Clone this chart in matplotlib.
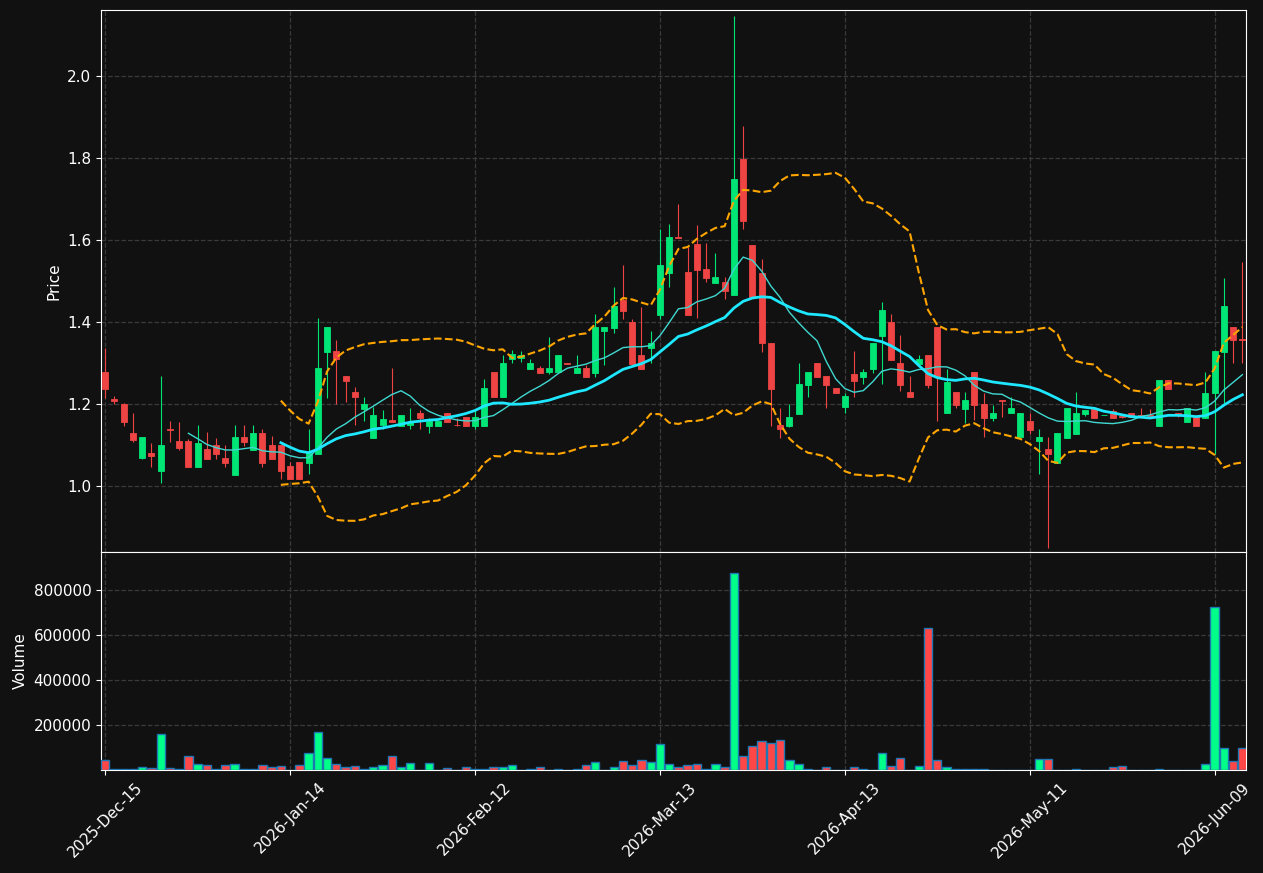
import numpy as np
import pandas as pd
import matplotlib
matplotlib.use("Agg")
import matplotlib.pyplot as plt

# trading calendar (NYSE days, holidays removed)
holidays = ["2025-12-25", "2026-01-01", "2026-01-19", "2026-02-16", "2026-04-03", "2026-05-25"]
dates = pd.bdate_range("2025-12-15", "2026-06-12")
dates = dates[~dates.isin(pd.to_datetime(holidays))]

opens = [1.278, 1.212, 1.200, 1.129, 1.068, 1.080, 1.037, 1.140, 1.110, 1.110,
         1.047, 1.090, 1.100, 1.068, 1.028, 1.120, 1.089, 1.129, 1.100, 1.100,
         1.049, 1.059, 1.057, 1.079, 1.328, 1.329, 1.268, 1.229, 1.188, 1.118,
         1.149, 1.160, 1.147, 1.149, 1.178, 1.147, 1.147, 1.178, 1.149, 1.168,
         1.147, 1.147, 1.277, 1.218, 1.309, 1.311, 1.286, 1.287, 1.278, 1.279,
         1.300, 1.276, 1.287, 1.276, 1.377, 1.386, 1.454, 1.399, 1.320, 1.337,
         1.417, 1.519, 1.607, 1.522, 1.590, 1.529, 1.496, 1.498, 1.466, 1.798,
         1.588, 1.520, 1.349, 1.150, 1.146, 1.176, 1.246, 1.299, 1.268, 1.239,
         1.193, 1.273, 1.266, 1.285, 1.367, 1.400, 1.300, 1.229, 1.298, 1.320,
         1.388, 1.177, 1.229, 1.189, 1.278, 1.199, 1.167, 1.210, 1.177, 1.120,
         1.159, 1.110, 1.090, 1.057, 1.118, 1.128, 1.176, 1.187, 1.172, 1.183,
         1.170, 1.177, 1.172, 1.172, 1.146, 1.259, 1.178, 1.156, 1.169, 1.167,
         1.228, 1.328, 1.388, 1.359]
highs = [1.337, 1.219, 1.202, 1.177, 1.120, 1.104, 1.268, 1.158, 1.155, 1.115,
         1.150, 1.131, 1.118, 1.100, 1.148, 1.148, 1.148, 1.140, 1.122, 1.100,
         1.059, 1.059, 1.138, 1.409, 1.387, 1.357, 1.268, 1.242, 1.218, 1.193,
         1.185, 1.287, 1.173, 1.190, 1.185, 1.167, 1.159, 1.178, 1.167, 1.168,
         1.185, 1.262, 1.277, 1.320, 1.331, 1.330, 1.309, 1.293, 1.363, 1.319,
         1.300, 1.320, 1.294, 1.419, 1.387, 1.486, 1.538, 1.408, 1.437, 1.377,
         1.628, 1.638, 1.687, 1.584, 1.636, 1.592, 1.568, 1.511, 2.146, 1.878,
         1.588, 1.553, 1.349, 1.190, 1.199, 1.299, 1.277, 1.299, 1.268, 1.239,
         1.228, 1.329, 1.285, 1.349, 1.448, 1.420, 1.368, 1.268, 1.319, 1.320,
         1.388, 1.286, 1.229, 1.229, 1.278, 1.228, 1.198, 1.210, 1.218, 1.178,
         1.177, 1.139, 1.119, 1.129, 1.190, 1.229, 1.185, 1.187, 1.172, 1.187,
         1.171, 1.177, 1.191, 1.189, 1.259, 1.259, 1.178, 1.190, 1.169, 1.277,
         1.329, 1.507, 1.388, 1.547]
lows = [1.215, 1.199, 1.147, 1.108, 1.067, 1.047, 1.008, 1.108, 1.088, 1.047,
        1.047, 1.067, 1.067, 1.047, 1.028, 1.098, 1.089, 1.047, 1.067, 1.018,
        1.018, 1.018, 1.029, 1.079, 1.214, 1.200, 1.205, 1.148, 1.159, 1.118,
        1.138, 1.156, 1.147, 1.138, 1.138, 1.130, 1.147, 1.157, 1.146, 1.147,
        1.138, 1.147, 1.218, 1.218, 1.299, 1.302, 1.286, 1.276, 1.273, 1.279,
        1.298, 1.276, 1.267, 1.267, 1.296, 1.372, 1.408, 1.298, 1.286, 1.299,
        1.407, 1.486, 1.604, 1.417, 1.409, 1.497, 1.496, 1.457, 1.466, 1.628,
        1.460, 1.328, 1.147, 1.118, 1.144, 1.176, 1.218, 1.267, 1.190, 1.228,
        1.177, 1.218, 1.248, 1.276, 1.248, 1.307, 1.231, 1.218, 1.298, 1.238,
        1.159, 1.177, 1.190, 1.154, 1.161, 1.120, 1.158, 1.169, 1.177, 1.120,
        1.128, 1.029, 0.848, 1.057, 1.118, 1.128, 1.171, 1.167, 1.172, 1.167,
        1.167, 1.168, 1.170, 1.170, 1.146, 1.237, 1.168, 1.156, 1.146, 1.167,
        1.078, 1.202, 1.299, 1.299]
closes = [1.237, 1.208, 1.157, 1.113, 1.120, 1.074, 1.100, 1.137, 1.093, 1.047,
          1.105, 1.067, 1.079, 1.057, 1.119, 1.107, 1.129, 1.057, 1.067, 1.037,
          1.018, 1.018, 1.081, 1.287, 1.387, 1.309, 1.257, 1.218, 1.199, 1.173,
          1.163, 1.157, 1.173, 1.157, 1.167, 1.159, 1.159, 1.157, 1.148, 1.147,
          1.168, 1.238, 1.218, 1.299, 1.321, 1.319, 1.299, 1.276, 1.287, 1.319,
          1.298, 1.287, 1.267, 1.387, 1.387, 1.439, 1.428, 1.298, 1.286, 1.348,
          1.539, 1.607, 1.604, 1.417, 1.527, 1.507, 1.510, 1.476, 1.749, 1.647,
          1.460, 1.348, 1.237, 1.138, 1.168, 1.249, 1.277, 1.267, 1.246, 1.228,
          1.220, 1.256, 1.278, 1.349, 1.429, 1.307, 1.247, 1.218, 1.310, 1.247,
          1.267, 1.254, 1.198, 1.210, 1.198, 1.167, 1.178, 1.208, 1.190, 1.178,
          1.137, 1.119, 1.078, 1.129, 1.190, 1.178, 1.185, 1.167, 1.172, 1.167,
          1.168, 1.168, 1.170, 1.170, 1.259, 1.237, 1.176, 1.190, 1.146, 1.226,
          1.329, 1.439, 1.356, 1.357]
volumes = [43000, 5800, 5000, 5000, 14800, 10400, 158500, 10000, 6000, 60700,
           25000, 20700, 6000, 20700, 25000, 6000, 6000, 20700, 11800, 16000,
           2000, 20700, 74000, 167500, 52000, 25000, 11800, 16000, 3000, 11800,
           20700, 60700, 11800, 29600, 2000, 29600, 1000, 7400, 2000, 11800,
           6000, 6000, 14800, 14800, 20700, 2000, 6000, 11800, 2000, 6000,
           1500, 6000, 20700, 34000, 2000, 14800, 38500, 20700, 43000, 34000,
           114000, 25000, 11800, 20700, 25000, 6000, 25000, 11800, 874000, 60700,
           105000, 127400, 118500, 132000, 43000, 25000, 2500, 1000, 11800, 2000,
           2000, 11800, 6000, 1500, 74000, 16000, 52000, 1500, 16000, 629600,
           43000, 11800, 6000, 6000, 6000, 6000, 1500, 1000, 1000, 1000,
           1500, 47400, 47400, 1000, 1000, 5000, 1500, 1500, 500, 11800,
           16000, 1000, 1500, 1500, 6000, 1000, 500, 1500, 1500, 25000,
           723000, 96300, 38500, 96300]

df = pd.DataFrame({"Open": opens, "High": highs, "Low": lows, "Close": closes,
                   "Volume": volumes}, index=dates[:len(opens)])

ma10 = df.Close.rolling(10).mean()
ma20 = df.Close.rolling(20).mean()
std20 = df.Close.rolling(20).std()
bb_up = ma20 + 2 * std20
bb_dn = ma20 - 2 * std20

BG = "#111111"
UP, DOWN = "#00e676", "#ef4444"
VUP, VDOWN = "#00ff88", "#ff4747"

fig = plt.figure(figsize=(12.63, 8.73), dpi=100, facecolor=BG)
ax = fig.add_axes([0.080, 0.3677, 0.9066, 0.6208])
axv = fig.add_axes([0.080, 0.118, 0.9066, 0.2497], sharex=ax)

x = np.arange(len(df))
up = df.Close >= df.Open
candle_col = np.where(up, UP, DOWN)
vol_col = np.where(up, VUP, VDOWN)

# wicks + bodies
ax.vlines(x, df.Low, df.High, colors=candle_col, linewidth=0.8, zorder=2)
body_lo = np.minimum(df.Open, df.Close)
body_h = np.abs(df.Close - df.Open)
ax.bar(x, body_h, bottom=body_lo, width=0.65, color=candle_col,
       edgecolor=candle_col, linewidth=0.6, zorder=3)

ax.plot(x, ma10, color="#40d8d0", linewidth=1.0, zorder=4)
ax.plot(x, ma20, color="#1ee8ff", linewidth=2.0, zorder=4)
ax.plot(x, bb_up, color="orange", linewidth=1.5, linestyle="--", zorder=4)
ax.plot(x, bb_dn, color="orange", linewidth=1.5, linestyle="--", zorder=4)

axv.bar(x, df.Volume, width=0.9, color=vol_col, edgecolor="#1f77b4",
        linewidth=1.0, zorder=3)

tick_idx = x[::20]
tick_lbl = [d.strftime("%Y-%b-%d") for d in df.index[::20]]

for a in (ax, axv):
    a.set_facecolor(BG)
    for s in a.spines.values():
        s.set_color("white")
    a.tick_params(colors="white", labelsize=11)
    a.grid(True, color="#3a3a3a", linestyle="--", linewidth=0.9)
    a.set_axisbelow(True)

ax.set_xlim(-0.45, len(df) - 0.6)
ax.set_ylim(0.839, 2.161)
ax.set_yticks([1.0, 1.2, 1.4, 1.6, 1.8, 2.0])
ax.set_ylabel("Price", color="white", fontsize=11)
ax.tick_params(axis="x", labelbottom=False)

axv.set_ylim(0, 969000)
axv.set_yticks([200000, 400000, 600000, 800000])
axv.ticklabel_format(axis="y", style="plain")
axv.set_ylabel("Volume", color="white", fontsize=11)
axv.set_xticks(tick_idx)
axv.set_xticklabels(tick_lbl, rotation=45, ha="center")

fig.savefig("out.png", facecolor=BG)
